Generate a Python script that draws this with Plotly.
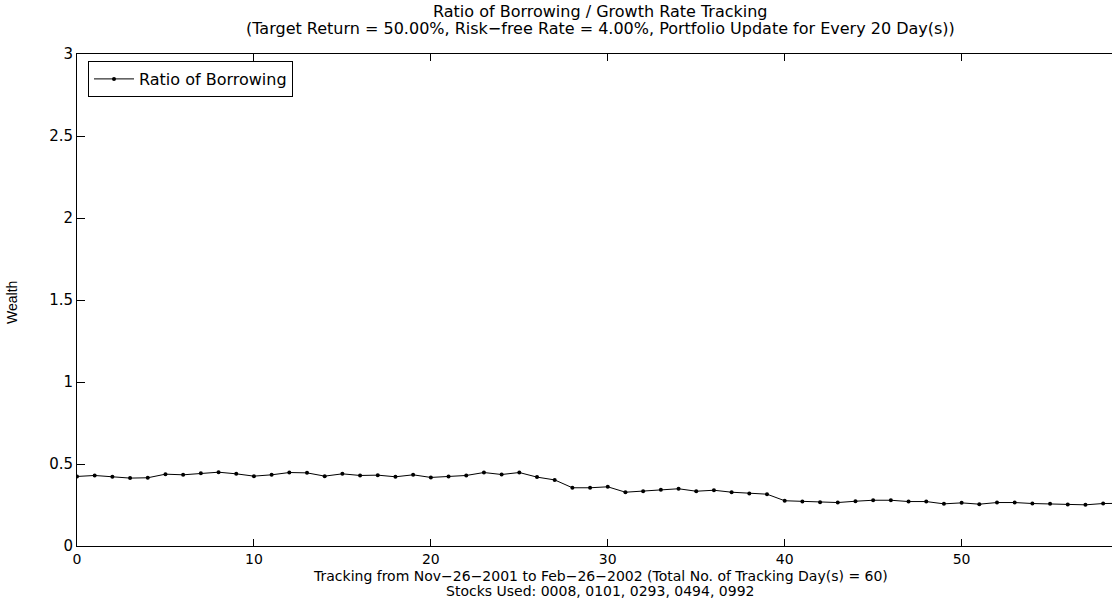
import plotly.graph_objects as go

days = list(range(0, 60))
ratio = [0.424, 0.430, 0.422, 0.414, 0.416, 0.438, 0.434, 0.444, 0.450, 0.440,
         0.426, 0.434, 0.448, 0.446, 0.426, 0.440, 0.430, 0.432, 0.422, 0.434,
         0.418, 0.424, 0.430, 0.448, 0.436, 0.448, 0.420, 0.403, 0.355, 0.355,
         0.361, 0.328, 0.334, 0.343, 0.349, 0.334, 0.340, 0.328, 0.320, 0.316,
         0.276, 0.271, 0.267, 0.265, 0.273, 0.279, 0.279, 0.271, 0.271, 0.257,
         0.263, 0.255, 0.265, 0.265, 0.259, 0.257, 0.253, 0.251, 0.259, 0.260]

x_ticks = [0, 10, 20, 30, 40, 50]
y_ticks = [0, 0.5, 1, 1.5, 2, 2.5, 3]
y_tick_labels = ["0", "0.5", "1", "1.5", "2", "2.5", "3"]

title_line1 = "Ratio of Borrowing / Growth Rate Tracking"
title_line2 = "(Target Return = 50.00%, Risk\u2212free Rate = 4.00%, Portfolio Update for Every 20 Day(s))"
xlabel_line1 = "Tracking from Nov\u221226\u22122001 to Feb\u221226\u22122002 (Total No. of Tracking Day(s) = 60)"
xlabel_line2 = "Stocks Used: 0008, 0101, 0293, 0494, 0992"
ylabel = "Wealth"

FONT = "DejaVu Sans, Liberation Sans, Arial, sans-serif"
W, H = 1112, 601
ML, MR, MT, MB = 77, 0, 54, 55
plot_w = W - ML - MR
plot_h = H - MT - MB


def px_to_paper_x(px):
    return (px - ML) / plot_w


def py_to_paper_y(py):
    return (H - MB - py) / plot_h


fig = go.Figure()
fig.add_trace(go.Scatter(
    x=days, y=ratio, mode="lines+markers", name="Ratio of Borrowing",
    line=dict(color="black", width=1),
    marker=dict(color="black", size=4, symbol="circle"),
))

fig.update_layout(
    width=W, height=H,
    margin=dict(l=ML, r=MR, t=MT, b=MB, pad=0),
    paper_bgcolor="white", plot_bgcolor="white",
    font=dict(family=FONT, size=15, color="black"),
    showlegend=True,
    legend=dict(
        x=px_to_paper_x(88), y=py_to_paper_y(61), xanchor="left", yanchor="top",
        bordercolor="black", borderwidth=1, bgcolor="white",
        font=dict(family=FONT, size=16, color="black"),
        itemwidth=40, tracegroupgap=0,
    ),
    xaxis=dict(
        range=[0, 58.5], tickmode="array", tickvals=x_ticks,
        ticktext=[str(v) for v in x_ticks],
        showgrid=False, zeroline=False, automargin=False,
        showline=True, linecolor="black", linewidth=1, mirror="ticks",
        ticks="inside", ticklen=7, tickcolor="black", tickwidth=1,
        tickfont=dict(family=FONT, size=14),
    ),
    yaxis=dict(
        range=[0, 3], tickmode="array", tickvals=y_ticks, ticktext=y_tick_labels,
        showgrid=False, zeroline=False, automargin=False,
        showline=True, linecolor="black", linewidth=1, mirror=False,
        ticks="inside", ticklen=8, tickcolor="black", tickwidth=1,
        tickfont=dict(family=FONT, size=15),
    ),
)

fig.add_annotation(text=title_line1, x=px_to_paper_x(600), y=py_to_paper_y(12),
                   xref="paper", yref="paper", showarrow=False,
                   font=dict(family=FONT, size=16), xanchor="center", yanchor="middle")
fig.add_annotation(text=title_line2, x=px_to_paper_x(600), y=py_to_paper_y(28),
                   xref="paper", yref="paper", showarrow=False,
                   font=dict(family=FONT, size=16), xanchor="center", yanchor="middle")
fig.add_annotation(text=xlabel_line1, x=px_to_paper_x(600), y=py_to_paper_y(576),
                   xref="paper", yref="paper", showarrow=False,
                   font=dict(family=FONT, size=14), xanchor="center", yanchor="middle")
fig.add_annotation(text=xlabel_line2, x=px_to_paper_x(600), y=py_to_paper_y(591),
                   xref="paper", yref="paper", showarrow=False,
                   font=dict(family=FONT, size=14), xanchor="center", yanchor="middle")
fig.add_annotation(text=ylabel, x=px_to_paper_x(12), y=py_to_paper_y(303),
                   xref="paper", yref="paper", showarrow=False, textangle=-90,
                   font=dict(family="Liberation Sans, Arial, sans-serif", size=14),
                   xanchor="center", yanchor="middle")

fig.write_html("out.html",
               config={"displayModeBar": False},
               post_script="document.body.style.margin='0';document.body.style.overflow='hidden';")
